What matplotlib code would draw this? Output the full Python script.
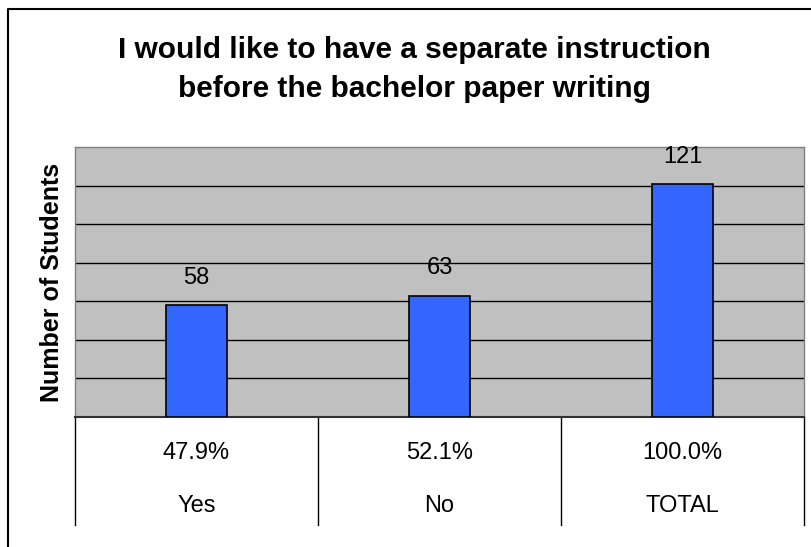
import matplotlib
matplotlib.use("Agg")
import matplotlib.pyplot as plt
from matplotlib.lines import Line2D
from matplotlib.transforms import blended_transform_factory

plt.rcParams['font.family'] = ['Liberation Sans', 'DejaVu Sans']

categories = ["Yes", "No", "TOTAL"]
students = [58, 63, 121]
percents = [47.9, 52.1, 100.0]
title_lines = ["I would like to have a separate instruction",
               "before the bachelor paper writing"]

W, H = 812, 547
fig = plt.figure(figsize=(W / 100, H / 100), dpi=100)

# plot area in pixel terms
left, top, right, bottom = 75, 147, 804, 417
ax = fig.add_axes([left / W, 1 - bottom / H, (right - left) / W, (bottom - top) / H])
ax.set_facecolor('#C0C0C0')

x = list(range(len(categories)))
ax.bar(x, students, width=0.25, color='#3366FF', edgecolor='black', linewidth=1.2, zorder=3)

ax.set_xlim(-0.5, len(categories) - 0.5)
ax.set_ylim(0, 140)
ax.set_yticks(range(20, 140, 20))
ax.yaxis.grid(True, color='black', linewidth=1.0, zorder=1)
ax.set_axisbelow(True)
ax.tick_params(axis='y', length=0, labelleft=False)
ax.set_xticks([])
for side in ('top', 'right', 'left'):
    ax.spines[side].set_color('#808080')
    ax.spines[side].set_linewidth(1.0)
ax.spines['bottom'].set_color('#303030')
ax.spines['bottom'].set_linewidth(1.5)

for xi, v in zip(x, students):
    ax.annotate(str(v), (xi, v), xytext=(0, 19.5), textcoords='offset points',
                ha='center', va='center', fontsize=17, color='black')

# category table below the axis
tr = blended_transform_factory(ax.transData, ax.transAxes)
row_pct = -(453 - bottom) / (bottom - top)
row_lab = -(506 - bottom) / (bottom - top)
line_end = -(525 - bottom) / (bottom - top)
for xi, p, c in zip(x, percents, categories):
    ax.text(xi, row_pct, f"{p:.1f}%", transform=tr, ha='center', va='center', fontsize=17)
    ax.text(xi, row_lab, c, transform=tr, ha='center', va='center', fontsize=17)
for xb in [i - 0.5 for i in range(len(categories) + 1)]:
    ax.add_line(Line2D([xb, xb], [0, line_end], transform=tr, color='black',
                       linewidth=1.0, clip_on=False))

fig.text(52 / W, 1 - 282 / H, "Number of Students", rotation=90,
         ha='center', va='center', fontsize=18, fontweight='bold')

for line, base in zip(title_lines, [58, 97]):
    fig.text(414 / W, 1 - base / H, line, ha='center', va='baseline',
             fontsize=21.5, fontweight='bold')

# chart frame
fig.add_artist(Line2D([8.5 / W, 8.5 / W, 1.0], [0.0, 1 - 9 / H, 1 - 9 / H],
                      transform=fig.transFigure, color='black', linewidth=1.5))

fig.savefig("out.png", dpi=100)
